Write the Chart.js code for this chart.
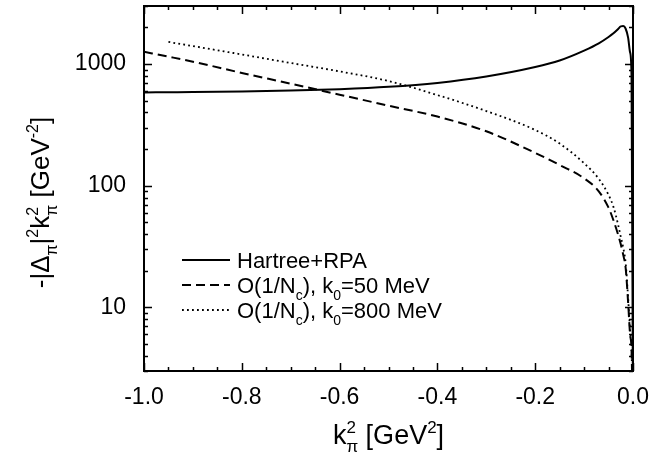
<!DOCTYPE html>
<html>
<head>
<meta charset="utf-8">
<script src="https://cdn.jsdelivr.net/npm/chart.js@4.4.1/dist/chart.umd.min.js"></script>
<style>
  html, body { margin: 0; padding: 0; background: #fff; }
  #wrap { width: 650px; height: 460px; }
</style>
</head>
<body>
<div id="wrap"><canvas id="chart"></canvas></div>
<script>
/* --- Data --- */
var K_VALUES = [-1.0, -0.95, -0.9, -0.8, -0.7, -0.6, -0.5, -0.4, -0.3, -0.2, -0.15, -0.1,
  -0.07, -0.05, -0.04, -0.03, -0.025, -0.02, -0.015, -0.01, -0.006, -0.003, 0.0];

var HARTREE_RPA = [585, 587, 589, 595, 605, 622, 650, 700, 790, 945, 1070, 1290,
  1480, 1670, 1790, 1950, 2040, 2050, 1950, 1650, 1250, 800, 1];

var NC_K0_50 = [1260, 1150, 1046, 845, 690, 560, 455, 370, 280, 186, 148, 115,
  90, 66, 52, 39, 33, 27, 21, 11, 6, 4.5, 1];

var NC_K0_800 = [null, 1520, 1405, 1199, 1020, 870, 725, 556, 411, 287, 222, 153,
  114, 84, 67, 47, 38, 31, 23, 12, 6.5, 4.5, 1];

var X_TICKS = [-1.0, -0.8, -0.6, -0.4, -0.2, 0.0];
var Y_TICKS = [10, 100, 1000];

var FONT = '"Liberation Sans", Arial, Helvetica, sans-serif';

/* --- Helpers --- */
function points(ys) {
  var out = [];
  for (var i = 0; i < K_VALUES.length; i++) {
    out.push({ x: K_VALUES[i], y: ys[i] });
  }
  return out;
}

// parts: strings, or {sub: ".."}, {sup: ".."}, {sup: "..", sub: ".."} (stacked)
function richWidth(ctx, parts, size) {
  var w = 0;
  parts.forEach(function (p) {
    if (typeof p === "string") {
      ctx.font = size + "px " + FONT;
      w += ctx.measureText(p).width;
    } else {
      ctx.font = Math.round(size * 0.62) + "px " + FONT;
      var a = p.sup ? ctx.measureText(p.sup).width : 0;
      var b = p.sub ? ctx.measureText(p.sub).width : 0;
      w += Math.max(a, b);
    }
  });
  return w;
}

function drawRich(ctx, x, y, parts, size, align) {
  var w = richWidth(ctx, parts, size);
  var cx = align === "center" ? x - w / 2 : x;
  ctx.textAlign = "left";
  ctx.textBaseline = "alphabetic";
  parts.forEach(function (p) {
    if (typeof p === "string") {
      ctx.font = size + "px " + FONT;
      ctx.fillText(p, cx, y);
      cx += ctx.measureText(p).width;
    } else {
      ctx.font = Math.round(size * 0.62) + "px " + FONT;
      var a = 0, b = 0;
      if (p.sup) {
        ctx.fillText(p.sup, cx, y - size * 0.42);
        a = ctx.measureText(p.sup).width;
      }
      if (p.sub) {
        ctx.fillText(p.sub, cx, y + size * 0.3);
        b = ctx.measureText(p.sub).width;
      }
      cx += Math.max(a, b);
    }
  });
}

/* --- Frame, inward ticks, titles and legend --- */
var decorPlugin = {
  id: "decor",
  afterDraw: function (chart) {
    var ctx = chart.ctx;
    var a = chart.chartArea;
    var xs = chart.scales.x;
    var ys = chart.scales.y;
    ctx.save();
    ctx.strokeStyle = "#000";
    ctx.fillStyle = "#000";

    // frame
    ctx.lineWidth = 2;
    ctx.strokeRect(a.left, a.top, a.right - a.left, a.bottom - a.top);

    // x ticks (bottom and top)
    ctx.lineWidth = 1.5;
    ctx.beginPath();
    for (var i = 0; i <= 20; i++) {
      var v = -1 + i * 0.05;
      var px = Math.round(xs.getPixelForValue(v)) + 0.5;
      var len = i % 4 === 0 ? 8 : 4;
      ctx.moveTo(px, a.bottom);
      ctx.lineTo(px, a.bottom - len);
      ctx.moveTo(px, a.top);
      ctx.lineTo(px, a.top + len);
    }
    // y ticks (left and right), log minors
    for (var e = 0; e <= 3; e++) {
      for (var m = 1; m <= 9; m++) {
        var val = m * Math.pow(10, e);
        if (val < ys.min || val > ys.max) continue;
        var py = Math.round(ys.getPixelForValue(val)) + 0.5;
        var l = m === 1 ? 8 : 4;
        ctx.moveTo(a.left, py);
        ctx.lineTo(a.left + l, py);
        ctx.moveTo(a.right, py);
        ctx.lineTo(a.right - l, py);
      }
    }
    ctx.stroke();

    // axis titles
    drawRich(ctx, (a.left + a.right) / 2, 444,
      ["k", { sup: "2", sub: "\u03c0" }, " [GeV", { sup: "2" }, "]"], 27, "center");

    ctx.save();
    ctx.translate(49, (a.top + a.bottom) / 2 + 14);
    ctx.rotate(-Math.PI / 2);
    drawRich(ctx, 0, 0,
      ["-|\u0394", { sub: "\u03c0" }, "|", { sup: "2" }, "k", { sup: "2", sub: "\u03c0" },
        " [GeV", { sup: "-2" }, "]"], 26, "center");
    ctx.restore();

    // legend
    var labels = [
      ["Hartree+RPA"],
      ["O(1/N", { sub: "c" }, "), k", { sub: "0" }, "=50 MeV"],
      ["O(1/N", { sub: "c" }, "), k", { sub: "0" }, "=800 MeV"]
    ];
    chart.data.datasets.forEach(function (ds, k) {
      var ry = 260 + k * 25;
      ctx.save();
      ctx.lineWidth = ds.borderWidth;
      ctx.setLineDash(ds.borderDash || []);
      ctx.beginPath();
      ctx.moveTo(182, ry);
      ctx.lineTo(230, ry);
      ctx.stroke();
      ctx.restore();
      drawRich(ctx, 237, ry + 8, labels[k], 22, "left");
    });

    ctx.restore();
  }
};

/* --- Chart --- */
new Chart(document.getElementById("chart"), {
  type: "line",
  data: {
    datasets: [
      {
        label: "Hartree+RPA",
        data: points(HARTREE_RPA),
        borderColor: "#000",
        borderWidth: 2,
        pointRadius: 0,
        cubicInterpolationMode: "monotone",
        clip: 0
      },
      {
        label: "O(1/Nc), k0=50 MeV",
        data: points(NC_K0_50),
        borderColor: "#000",
        borderWidth: 2,
        borderDash: [9, 5],
        pointRadius: 0,
        cubicInterpolationMode: "monotone",
        clip: 0
      },
      {
        label: "O(1/Nc), k0=800 MeV",
        data: points(NC_K0_800),
        borderColor: "#000",
        borderWidth: 1.8,
        borderDash: [1.8, 3.2],
        pointRadius: 0,
        cubicInterpolationMode: "monotone",
        clip: 0
      }
    ]
  },
  options: {
    responsive: true,
    maintainAspectRatio: false,
    animation: false,
    devicePixelRatio: 1,
    layout: { padding: { top: 6, right: 17, left: 0, bottom: 0 } },
    plugins: {
      legend: { display: false },
      tooltip: { enabled: false }
    },
    scales: {
      x: {
        type: "linear",
        min: -1,
        max: 0,
        grid: { display: false },
        border: { display: false },
        afterBuildTicks: function (s) {
          s.ticks = X_TICKS.map(function (v) { return { value: v }; });
        },
        afterFit: function (s) {
          s.height = 89;
          s.paddingLeft = 0;
          s.paddingRight = 0;
        },
        ticks: {
          color: "#000",
          padding: 5,
          maxRotation: 0,
          font: { family: FONT, size: 23 },
          callback: function (v) { return Number(v).toFixed(1); }
        }
      },
      y: {
        type: "logarithmic",
        min: 3,
        max: 3000,
        grid: { display: false },
        border: { display: false },
        afterBuildTicks: function (s) {
          s.ticks = Y_TICKS.map(function (v) { return { value: v }; });
        },
        afterFit: function (s) {
          s.width = 144;
          s.paddingTop = 0;
          s.paddingBottom = 0;
        },
        ticks: {
          color: "#000",
          padding: 10,
          font: { family: FONT, size: 23 },
          callback: function (v) { return String(v); }
        }
      }
    }
  },
  plugins: [decorPlugin]
});
</script>
</body>
</html>
